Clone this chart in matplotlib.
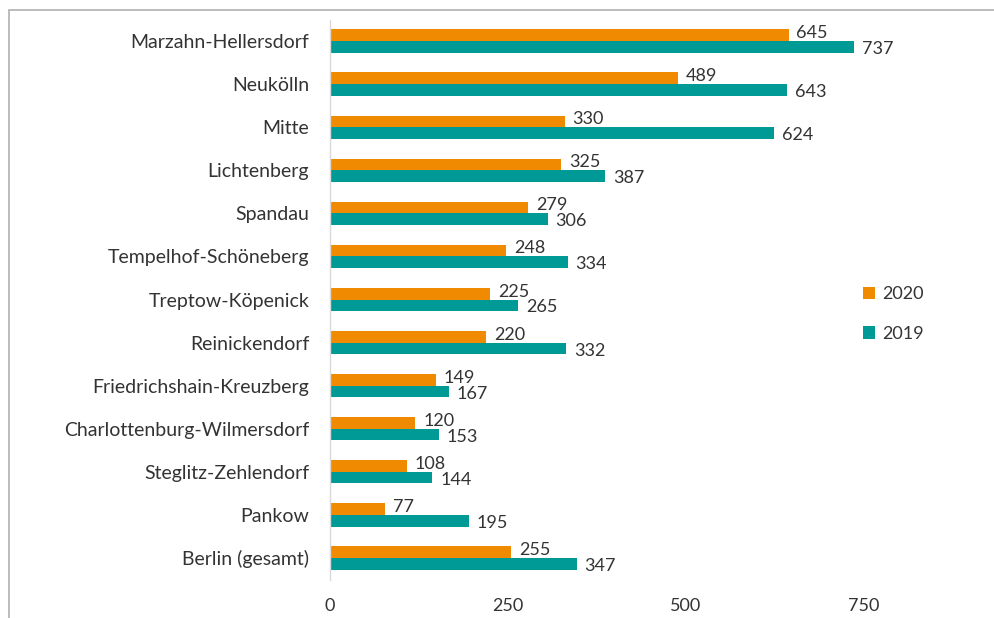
import matplotlib.pyplot as plt
import numpy as np
from matplotlib.patches import Rectangle

plt.rcParams['font.family'] = ['Lato', 'DejaVu Sans']

districts = ['Marzahn-Hellersdorf', 'Neukölln', 'Mitte', 'Lichtenberg', 'Spandau',
             'Tempelhof-Schöneberg', 'Treptow-Köpenick', 'Reinickendorf',
             'Friedrichshain-Kreuzberg', 'Charlottenburg-Wilmersdorf',
             'Steglitz-Zehlendorf', 'Pankow', 'Berlin (gesamt)']
values_2020 = [645, 489, 330, 325, 279, 248, 225, 220, 149, 120, 108, 77, 255]
values_2019 = [737, 643, 624, 387, 306, 334, 265, 332, 167, 153, 144, 195, 347]

orange = '#F08A00'
teal = '#009A96'
txt = '#333333'

fig = plt.figure(figsize=(9.95, 6.18), dpi=100)
ax = fig.add_axes([330 / 995, 1 - 579.5 / 618, 640 / 995, 560 / 618])

y = np.arange(len(districts))
h = 0.27
ax.barh(y - h / 2, values_2020, height=h, color=orange, label='2020')
ax.barh(y + h / 2, values_2019, height=h, color=teal, label='2019')

for yi, v in zip(y, values_2020):
    ax.text(v + 11, yi - h / 2 - 0.05, str(v), va='center', ha='left', fontsize=13, color=txt)
for yi, v in zip(y, values_2019):
    ax.text(v + 11, yi + h / 2 + 0.05, str(v), va='center', ha='left', fontsize=13, color=txt)

ax.set_ylim(len(districts) - 0.5, -0.5)
ax.set_xlim(0, 900)
ax.set_yticks(y)
ax.set_yticklabels(districts, fontsize=14, color=txt)
ax.set_xticks([0, 250, 500, 750])
ax.tick_params(axis='x', labelsize=13, labelcolor=txt, length=0, pad=13)
ax.tick_params(axis='y', length=0, pad=15)
for s in ['top', 'right', 'bottom']:
    ax.spines[s].set_visible(False)
ax.spines['left'].set_color('#d9d9d9')
ax.spines['left'].set_linewidth(1)

ax.legend(loc='center left', bbox_to_anchor=(0.807, 0.474), frameon=False, fontsize=13,
          handlelength=0.7, handleheight=0.7, handletextpad=0.4, labelspacing=1.3,
          labelcolor=txt)

# outer frame (cut at right and bottom edges)
fig.patches.append(Rectangle((9 / 995, -0.1), 1.1, 1 - 10 / 618 + 0.1, transform=fig.transFigure,
                             fill=False, edgecolor='#b0b0b0', linewidth=1.2))

fig.savefig('out.png', dpi=100)
